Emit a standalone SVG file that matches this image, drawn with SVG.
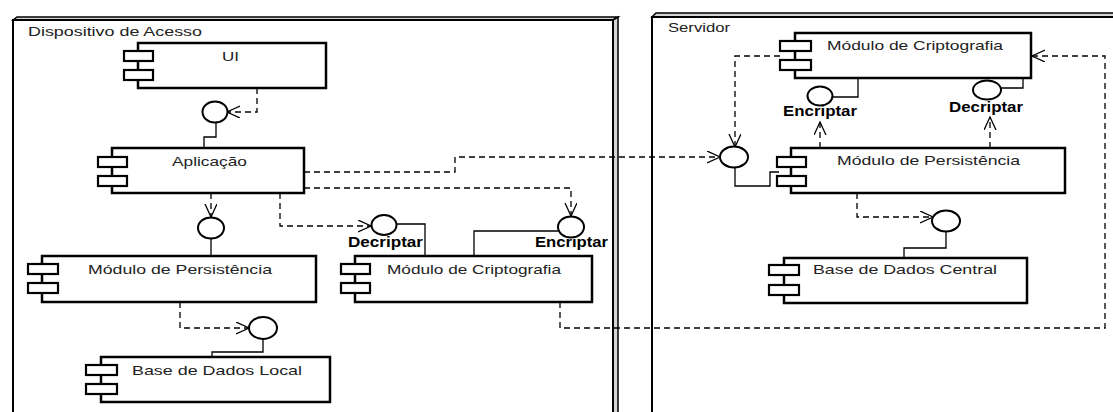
<svg xmlns="http://www.w3.org/2000/svg" width="1113" height="412" viewBox="0 0 1113 412">
<style>
.frame{fill:none;stroke:#000;stroke-width:2}
.depth{fill:#d4d4d4;stroke:#000;stroke-width:1.5;stroke-linejoin:miter}
.box{fill:#fff;stroke:#000;stroke-width:2.5}
.ico{fill:#fff;stroke:#000;stroke-width:2.2}
.lbl{font-family:"Liberation Sans",Arial,sans-serif;font-size:13px;fill:#222}
.blbl{font-family:"Liberation Sans",Arial,sans-serif;font-size:14px;font-weight:bold;fill:#000}
.dep{fill:none;stroke:#000;stroke-width:1.3;stroke-dasharray:6 4;marker-end:url(#arr)}
.dash{fill:none;stroke:#000;stroke-width:1.3;stroke-dasharray:6 4}
.sol{fill:none;stroke:#000;stroke-width:1.3}
.ifc{fill:#fff;stroke:#000;stroke-width:2}
</style>
<defs>
<marker id="arr" markerUnits="userSpaceOnUse" markerWidth="16" markerHeight="14" refX="13" refY="6" orient="auto" viewBox="0 0 16 14">
<path d="M0,0 L13,6 L0,12" fill="none" stroke="#000" stroke-width="1.3"/>
</marker>
</defs>
<rect width="1113" height="412" fill="#fff"/>

<g id="frame-dispositivo">
<polygon class="depth" points="13,20 17,17 618,17 613,20"/>
<polygon class="depth" points="613,20 618,17 618,414 613,414"/>
<path class="frame" d="M13,414 V20 H613 V414"/>
<text class="lbl" x="28" y="36" textLength="174" lengthAdjust="spacingAndGlyphs">Dispositivo de Acesso</text>
</g>

<g id="frame-servidor">
<polygon class="depth" points="652,17 656,13 1115,13 1115,17"/>
<path class="frame" d="M652,414 V17 H1115"/>
<text class="lbl" x="668" y="32" textLength="62" lengthAdjust="spacingAndGlyphs">Servidor</text>
</g>

<g id="connectors">
<!-- left side -->
<polyline class="dep" points="257,88 257,112 227,112"/>
<polyline class="sol" points="216,123 216,137 204,137 204,148"/>
<polyline class="dep" points="211,193 211,217"/>
<polyline class="sol" points="211,238 211,256"/>
<polyline class="dep" points="280,193 280,226 371,226"/>
<polyline class="sol" points="396,224 425,224 425,256"/>
<polyline class="dep" points="304,188 571,188 571,216"/>
<polyline class="sol" points="558,231 474,231 474,256"/>
<polyline class="dep" points="304,172 455,172 455,157 720,157"/>
<polyline class="dep" points="180,302 180,328 249,328"/>
<polyline class="sol" points="263,339 263,352 212,352 212,357"/>
<polyline class="dep" points="560,302 560,328 1105,328 1105,56 1032,56"/>
<!-- server side -->
<polyline class="dep" points="780,56 735,56 735,147"/>
<polyline class="sol" points="735,167 735,186 770,186 770,172 779,172"/>
<polyline class="dep" points="820,148 820,122"/>
<polyline class="sol" points="832,97 858,97 858,78"/>
<polyline class="dep" points="990,148 990,117"/>
<polyline class="sol" points="1000,88 1023,88 1023,78"/>
<polyline class="dep" points="857,193 857,217 933,217"/>
<polyline class="sol" points="946,231 946,248 904,248 904,258"/>
</g>

<g id="if-ui"><ellipse class="ifc" cx="215" cy="112" rx="12.5" ry="10.5"/></g>
<g id="if-app"><ellipse class="ifc" cx="211" cy="228" rx="13" ry="10.5"/></g>
<g id="if-decriptar-l"><ellipse class="ifc" cx="384" cy="225" rx="12.5" ry="10"/>
<text class="blbl" x="348" y="247" textLength="75" lengthAdjust="spacingAndGlyphs">Decriptar</text></g>
<g id="if-encriptar-l"><ellipse class="ifc" cx="571" cy="227" rx="13" ry="10.5"/>
<text class="blbl" x="535" y="247" textLength="73" lengthAdjust="spacingAndGlyphs">Encriptar</text></g>
<g id="if-persist-l"><ellipse class="ifc" cx="263" cy="328" rx="14" ry="11"/></g>
<g id="if-server"><ellipse class="ifc" cx="734" cy="157" rx="14" ry="10.5"/></g>
<g id="if-encriptar-s"><ellipse class="ifc" cx="820" cy="96" rx="12.5" ry="9.5"/>
<text class="blbl" x="783" y="116" textLength="74" lengthAdjust="spacingAndGlyphs">Encriptar</text></g>
<g id="if-decriptar-s"><ellipse class="ifc" cx="987" cy="90" rx="14" ry="9.5"/>
<text class="blbl" x="949" y="112" textLength="74" lengthAdjust="spacingAndGlyphs">Decriptar</text></g>
<g id="if-base-s"><ellipse class="ifc" cx="946" cy="221" rx="14" ry="10.5"/></g>

<g id="ui">
<rect class="box" x="138" y="43" width="188" height="45"/>
<rect class="ico" x="124" y="51" width="29" height="10"/>
<rect class="ico" x="124" y="70" width="29" height="10"/>
<text class="lbl" x="222" y="61" textLength="17" lengthAdjust="spacingAndGlyphs">UI</text>
</g>
<g id="aplicacao">
<rect class="box" x="112" y="148" width="192" height="45"/>
<rect class="ico" x="98" y="157" width="29" height="10"/>
<rect class="ico" x="98" y="176" width="29" height="10"/>
<text class="lbl" x="172" y="166" textLength="75" lengthAdjust="spacingAndGlyphs">Aplicação</text>
</g>
<g id="persistencia-local">
<rect class="box" x="42" y="256" width="274" height="46"/>
<rect class="ico" x="28" y="264" width="30" height="10"/>
<rect class="ico" x="28" y="283" width="30" height="10"/>
<text class="lbl" x="88" y="274" textLength="184" lengthAdjust="spacingAndGlyphs">Módulo de Persistência</text>
</g>
<g id="criptografia-local">
<rect class="box" x="355" y="256" width="237" height="46"/>
<rect class="ico" x="341" y="264" width="29" height="10"/>
<rect class="ico" x="341" y="283" width="29" height="10"/>
<text class="lbl" x="387" y="274" textLength="174" lengthAdjust="spacingAndGlyphs">Módulo de Criptografia</text>
</g>
<g id="base-local">
<rect class="box" x="101" y="357" width="229" height="45"/>
<rect class="ico" x="86" y="365" width="31" height="10"/>
<rect class="ico" x="86" y="384" width="31" height="10"/>
<text class="lbl" x="132" y="375" textLength="170" lengthAdjust="spacingAndGlyphs">Base de Dados Local</text>
</g>
<g id="criptografia-servidor">
<rect class="box" x="795" y="33" width="236" height="45"/>
<rect class="ico" x="780" y="41" width="31" height="10"/>
<rect class="ico" x="780" y="60" width="31" height="10"/>
<text class="lbl" x="827" y="50" textLength="176" lengthAdjust="spacingAndGlyphs">Módulo de Criptografia</text>
</g>
<g id="persistencia-servidor">
<rect class="box" x="791" y="148" width="274" height="45"/>
<rect class="ico" x="777" y="157" width="29" height="10"/>
<rect class="ico" x="777" y="176" width="29" height="10"/>
<text class="lbl" x="837" y="165" textLength="183" lengthAdjust="spacingAndGlyphs">Módulo de Persistência</text>
</g>
<g id="base-central">
<rect class="box" x="784" y="258" width="243" height="45"/>
<rect class="ico" x="769" y="265" width="30" height="10"/>
<rect class="ico" x="769" y="285" width="30" height="10"/>
<text class="lbl" x="813" y="274" textLength="184" lengthAdjust="spacingAndGlyphs">Base de Dados Central</text>
</g>
</svg>
